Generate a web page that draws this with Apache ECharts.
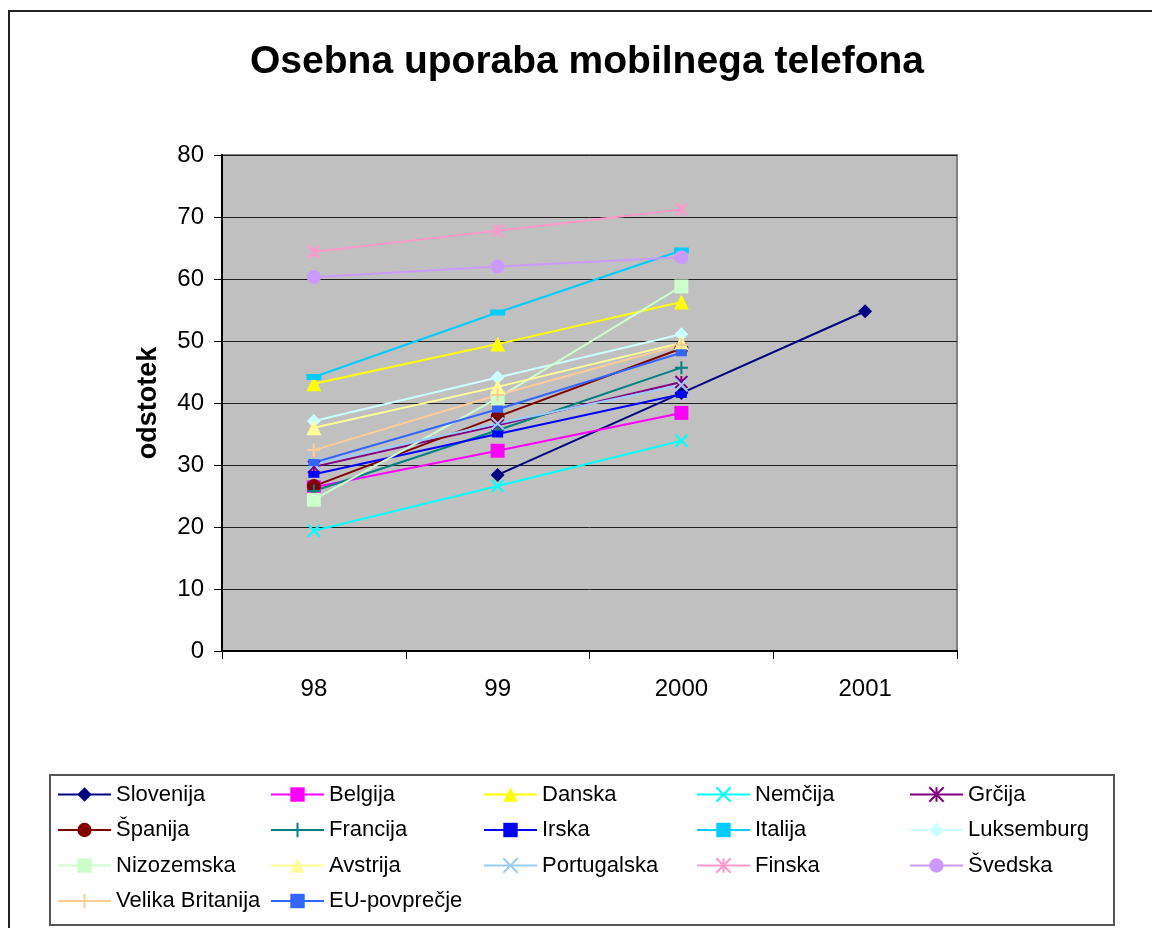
<!DOCTYPE html>
<html>
<head>
<meta charset="utf-8">
<script src="https://cdn.jsdelivr.net/npm/echarts@6/dist/echarts.min.js"></script>
<style>
  html, body { margin: 0; padding: 0; background: #fff; }
  #chart { width: 1152px; height: 928px; }
</style>
</head>
<body>
<div id="chart"></div>
<script>
// podatki (odstotek) po letih
const years = ["98", "99", "2000", "2001"];
const yTicks = [0, 10, 20, 30, 40, 50, 60, 70, 80];

const slovenija = [null, 28.4, 41.6, 54.8];
const belgija = [26.4, 32.3, 38.4, null];
const danska = [43.1, 49.5, 56.3, null];
const nemcija = [19.4, 26.6, 33.9, null];
const grcija = [29.7, 36.4, 43.4, null];
const spanija = [26.6, 37.8, 48.8, null];
const francija = [25.8, 35.6, 45.7, null];
const irska = [28.5, 35.0, 41.4, null];
const italija = [44.2, 54.6, 64.6, null];
const luksemburg = [37.1, 44.1, 51.1, null];
const nizozemska = [24.4, 40.8, 58.8, null];
const avstrija = [36.0, 42.6, 49.7, null];
const portugalska = [30.2, 36.7, 42.9, null];
const finska = [64.4, 67.8, 71.2, null];
const svedska = [60.3, 62.0, 63.5, null];
const velikaBritanija = [32.4, 41.3, 49.4, null];
const euPovprecje = [30.4, 39.0, 48.1, null];

const X = "path://M0,0L10,10M10,0L0,10";
const STAR = "path://M5,0L5,10M0,0L10,10M10,0L0,10";
const PLUS = "path://M5,0L5,10M0,5L10,5";
const BAR = "path://M0,0L10,0L10,6L0,6Z";
const WIDEBAR = "path://M0,0L15,0L15,6L0,6Z";

// ime, podatki, barva, simbol, velikost, stroke simbol?
const seriesDefs = [
  ["Slovenija", slovenija, "#000080", "diamond", 14, false],
  ["Belgija", belgija, "#FF00FF", "rect", 14, false],
  ["Danska", danska, "#FFFF00", "triangle", 15, false],
  ["Nemčija", nemcija, "#00FFFF", X, 12, true],
  ["Grčija", grcija, "#800080", STAR, 12, true],
  ["Španija", spanija, "#800000", "circle", 14, false],
  ["Francija", francija, "#008080", PLUS, 13, true],
  ["Irska", irska, "#0000FF", BAR, [11, 7], false],
  ["Italija", italija, "#00CCFF", WIDEBAR, [15, 6], false],
  ["Luksemburg", luksemburg, "#CCFFFF", "diamond", 14, false],
  ["Nizozemska", nizozemska, "#CCFFCC", "rect", 14, false],
  ["Avstrija", avstrija, "#FFFF99", "triangle", 15, false],
  ["Portugalska", portugalska, "#99CCFF", X, 12, true],
  ["Finska", finska, "#FF99CC", STAR, 12, true],
  ["Švedska", svedska, "#CC99FF", "circle", 14, false],
  ["Velika Britanija", velikaBritanija, "#FFCC99", PLUS, 13, true],
  ["EU-povprečje", euPovprecje, "#3366FF", BAR, [11, 7], false],
];

const legendCols = [
  ["Slovenija", "Španija", "Nizozemska", "Velika Britanija"],
  ["Belgija", "Francija", "Avstrija", "EU-povprečje"],
  ["Danska", "Irska", "Portugalska"],
  ["Nemčija", "Italija", "Finska"],
  ["Grčija", "Luksemburg", "Švedska"],
];
const legendLeft = [57, 270, 483, 696, 909];

const font = "Liberation Sans, Arial, sans-serif";

const chart = echarts.init(document.getElementById("chart"));

const series = seriesDefs.map(([name, data, color, symbol, size, stroke]) => ({
  name: name,
  type: "line",
  data: data,
  connectNulls: false,
  symbol: symbol,
  symbolSize: size,
  showAllSymbol: true,
  lineStyle: { color: color, width: 2 },
  itemStyle: stroke
    ? { color: color, borderColor: color, borderWidth: 2 }
    : { color: color, borderWidth: 0 },
  emphasis: { disabled: true },
  animation: false,
}));

const options = {
  backgroundColor: "#fff",
  animation: false,
  title: {
    text: "Osebna uporaba mobilnega telefona",
    left: 582,
    top: 38,
    textAlign: "center",
    textStyle: { fontFamily: font, fontSize: 39, fontWeight: "bold", color: "#000" },
  },
  legend: legendCols.map((col, i) => ({
    data: col,
    orient: "vertical",
    left: legendLeft[i],
    top: 782,
    height: 146,
    padding: 0,
    itemWidth: 53,
    itemHeight: 18,
    itemGap: 10.5,
    selectedMode: false,
    symbolKeepAspect: true,
    textStyle: { fontFamily: font, fontSize: 22, lineHeight: 25, color: "#000" },
  })),
  grid: {
    left: 222,
    right: 195,
    top: 155,
    bottom: 277,
    show: true,
    backgroundColor: "#C0C0C0",
    borderColor: "#808080",
    borderWidth: 2,
  },
  xAxis: {
    type: "category",
    data: years,
    boundaryGap: true,
    axisLine: { lineStyle: { color: "#000", width: 2 } },
    axisTick: { show: true, length: 8, lineStyle: { color: "#000", width: 1 } },
    axisLabel: { margin: 26, fontFamily: font, fontSize: 24, color: "#000" },
    splitLine: { show: false },
  },
  yAxis: {
    type: "value",
    min: yTicks[0],
    max: yTicks[yTicks.length - 1],
    interval: 10,
    name: "odstotek",
    nameLocation: "middle",
    nameRotate: 90,
    nameGap: 60,
    nameTextStyle: { fontFamily: font, fontSize: 27, fontWeight: "bold", color: "#000" },
    axisLine: { show: true, lineStyle: { color: "#000", width: 2 } },
    axisTick: { show: true, length: 8, lineStyle: { color: "#000", width: 1 } },
    axisLabel: { margin: 18, fontFamily: font, fontSize: 24, color: "#000" },
    splitLine: { show: true, lineStyle: { color: "#222", width: 1 } },
  },
  graphic: [
    {
      type: "rect",
      shape: { x: 9, y: 11, width: 1300, height: 1000 },
      style: { fill: "none", stroke: "#222", lineWidth: 2 },
      silent: true,
    },
    {
      type: "rect",
      shape: { x: 50, y: 775, width: 1064, height: 150 },
      style: { fill: "none", stroke: "#555", lineWidth: 2 },
      silent: true,
    },
  ],
  series: series,
};

chart.setOption(options);
</script>
</body>
</html>
